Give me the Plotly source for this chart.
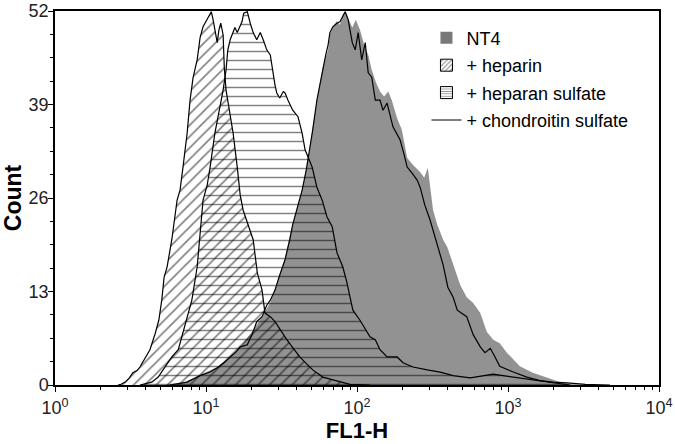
import plotly.graph_objects as go

# FL1-H is recorded on 1024 log channels spanning 4 decades (256 channels/decade)
CH_PER_DECADE = 256

# ---- NT4 (grey filled) ----
nt4_ch = [186, 220, 246, 275, 297, 314, 334, 351, 365, 378, 390, 403, 419, 432, 437, 444, 449, 454,
          463, 466, 471, 478, 483, 488, 492, 497, 504, 510, 517, 524, 531, 537, 544, 551, 558, 565,
          571, 580, 588, 597, 607, 619, 626, 632, 641, 648, 658, 665, 675, 687, 698, 709, 721, 732,
          743, 754, 766, 788, 810, 834, 856, 878, 924]
nt4_count = [0, 0.4, 1.4, 2.5, 3.9, 5.3, 7.4, 9.5, 11.5, 14.6, 17.8, 22.5, 27.1, 32.7, 35.9, 39.6, 42.0, 44.2,
             46.6, 48.7, 49.8, 50.6, 50.1, 51.5, 52.0, 51.0, 49.7, 50.8, 49.4, 47.3, 45.9, 43.8, 42.1, 40.8, 40.1, 40.8,
             39.6, 37.1, 35.5, 31.6, 30.6, 29.6, 28.8, 30.2, 24.3, 22.3, 20.2, 19.2, 16.7, 13.9, 12.2, 11.4, 10.0, 7.4,
             6.3, 5.8, 4.5, 2.6, 1.7, 1.0, 0.4, 0.1, 0]

# ---- + heparin (diagonal hatch) ----
heparin_ch = [107, 112, 119, 126, 132, 139, 144, 153, 161, 170, 176, 181, 185, 190, 198, 207, 212, 217, 224, 229,
              234, 241, 246, 251, 256, 261, 265, 268, 271, 275, 278, 281, 285, 287, 290, 293, 298, 302, 309, 314,
              319, 327, 336, 343, 351, 356, 365, 373, 382, 393, 404, 415, 427, 437, 454, 475, 500, 534]
heparin_count = [0, 0.1, 0.4, 1, 1.7, 2, 2.5, 3.8, 4.9, 7.2, 9, 11.8, 15, 16.4, 20.2, 25.7, 27.1, 30.3, 35, 39.6,
                 42.7, 45.2, 48.3, 49.8, 50.5, 51.3, 51.9, 50.8, 49.4, 47.6, 49.4, 50.3, 48.7, 44.2, 41, 39.6, 37.3, 35, 30.3, 26.4,
                 24.3, 22.5, 20.2, 15.6, 13.2, 10, 9.5, 8.8, 7.6, 6.3, 5.1, 3.9, 2.9, 2.1, 1.1, 0.6, 0.1, 0]

# ---- + heparan sulfate (horizontal stripes) ----
heparan_ch = [144, 164, 175, 186, 198, 209, 217, 225, 232, 241, 246, 251, 258, 263, 271, 280, 285, 290, 293, 297,
              302, 305, 309, 314, 317, 320, 326, 331, 336, 342, 348, 353, 359, 365, 368, 373, 376, 381, 387, 390,
              395, 403, 412, 419, 424, 429, 436, 444, 453, 461, 470, 478, 483, 488, 495, 505, 517, 534, 543, 551,
              563, 580, 590, 607, 631, 653, 675, 704, 743, 777, 810, 839, 873]
heparan_count = [0, 0.4, 1.1, 2.5, 3.9, 4.9, 7.2, 9.7, 11.8, 16.4, 21.1, 25.7, 27.8, 30.3, 35, 38.7, 41, 43.8, 46.6, 48,
                 49.1, 49.7, 49, 50.1, 50.5, 51.7, 51.9, 50.3, 49, 48, 49, 48, 46.6, 45.9, 44.2, 41.7, 40.6, 39.9, 40.8, 40.6,
                 39.6, 38.2, 37.3, 35, 32.7, 31.7, 30.3, 27.5, 25.7, 23.4, 22, 18.4, 17.4, 16.4, 14.2, 10.4, 9, 6.7, 6.3, 4.9,
                 3.9, 3.9, 3.1, 2.5, 2.1, 1.8, 1.3, 1, 1.5, 1.1, 0.7, 0.3, 0]

# ---- + chondroitin sulfate (black line) ----
chond_ch = [195, 224, 246, 263, 275, 288, 297, 307, 314, 326, 334, 342, 351, 359, 365, 373, 381, 390, 398, 403,
            412, 419, 426, 432, 437, 444, 449, 454, 459, 463, 466, 471, 478, 483, 487, 492, 497, 500, 504, 509,
            514, 520, 526, 531, 537, 543, 551, 556, 563, 573, 585, 592, 597, 605, 614, 619, 627, 636, 648, 658,
            666, 675, 682, 698, 709, 721, 729, 738, 746, 754, 777, 800, 822, 844, 868, 899, 941]
chond_count = [0, 0.4, 1.3, 1.8, 2.4, 3.2, 3.9, 4.6, 5.3, 5.6, 7.0, 8.8, 9.5, 11.1, 11.8, 13.2, 15.3, 17.4, 20.2, 22.3,
               25.0, 27.1, 29.9, 32.7, 35.5, 39.6, 41.7, 44.2, 45.9, 47.3, 49.0, 49.8, 50.3, 50.5, 51.2, 51.9, 50.8, 49.4, 47.6, 46.6,
               49.0, 45.2, 47.6, 43.4, 42.8, 39.6, 39.6, 38.2, 39.2, 35.9, 34.1, 32.0, 30.3, 29.5, 28.5, 27.5, 25.0, 22.9, 19.5, 16.7,
               13.6, 12.2, 10.4, 9.5, 7.0, 5.3, 4.5, 5.1, 3.9, 2.6, 1.8, 1.1, 0.6, 0.4, 0.3, 0.1, 0]

y_ticks = [0, 13, 26, 39, 52]
x_ticks = [1, 10, 100, 1000, 10000]
x_ticktext = ["10<sup>0</sup>", "10<sup>1</sup>", "10<sup>2</sup>", "10<sup>3</sup>", "10<sup>4</sup>"]
x_minor = [m * d for d in (1, 10, 100, 1000) for m in range(2, 10)]

legend_names = ["NT4", "+ heparin", "+ heparan sulfate", "+ chondroitin sulfate"]

GREY = "rgb(146,146,146)"
FONT = "Arial, Liberation Sans, sans-serif"


def to_fl1(ch):
    return [10 ** (c / CH_PER_DECADE) for c in ch]


fig = go.Figure()

fig.add_trace(go.Scatter(x=to_fl1(nt4_ch), y=nt4_count, mode="lines", fill="tozeroy",
                         fillcolor=GREY, line=dict(width=0, color=GREY), showlegend=False,
                         hoverinfo="skip"))
fig.add_trace(go.Scatter(x=to_fl1(heparin_ch), y=heparin_count, mode="lines", fill="tozeroy",
                         fillcolor="rgba(0,0,0,0)",
                         fillpattern=dict(shape="/", fgcolor="black", bgcolor="rgba(0,0,0,0)",
                                          size=8, solidity=0.2),
                         line=dict(width=1.2, color="black"), showlegend=False))
fig.add_trace(go.Scatter(x=to_fl1(heparan_ch), y=heparan_count, mode="lines", fill="tozeroy",
                         fillcolor="rgba(0,0,0,0)",
                         fillpattern=dict(shape="-", fgcolor="black", bgcolor="rgba(0,0,0,0)",
                                          size=9, solidity=0.16),
                         line=dict(width=1.2, color="black"), showlegend=False))
fig.add_trace(go.Scatter(x=to_fl1(chond_ch), y=chond_count, mode="lines",
                         line=dict(width=1.2, color="black"), showlegend=False))

# legend-only entries
fig.add_trace(go.Bar(x=[None], y=[None], name=legend_names[0], legendrank=1, legendgroup="a",
                     marker=dict(color="rgb(120,120,120)", line=dict(width=0))))
fig.add_trace(go.Bar(x=[None], y=[None], name=legend_names[1], legendrank=2, legendgroup="b",
                     marker=dict(color="white", line=dict(width=1, color="black"),
                                 pattern=dict(shape="/", fgcolor="black", bgcolor="white",
                                              size=4, solidity=0.3))))
fig.add_trace(go.Bar(x=[None], y=[None], name=legend_names[2], legendrank=3, legendgroup="c",
                     marker=dict(color="white", line=dict(width=1, color="black"),
                                 pattern=dict(shape="-", fgcolor="black", bgcolor="white",
                                              size=3, solidity=0.3))))
fig.add_trace(go.Scatter(x=[None], y=[None], mode="lines", name=legend_names[3], legendrank=4,
                         legendgroup="d", line=dict(width=1, color="black")))

axis_common = dict(showline=True, linecolor="black", linewidth=1.5, mirror=True,
                   showgrid=False, zeroline=False, ticks="outside", tickcolor="black",
                   tickwidth=1.2, ticklen=5, automargin=False,
                   tickfont=dict(family=FONT, size=18, color="#222"))

fig.update_xaxes(type="log", range=[0, 4], tickmode="array", tickvals=x_ticks,
                 ticktext=x_ticktext, ticklabelstandoff=1,
                 minor=dict(tickmode="array", tickvals=x_minor, ticks="outside", ticklen=3,
                            tickcolor="black", tickwidth=1),
                 title=dict(text="<b>FL1-H</b>", font=dict(family=FONT, size=22, color="black"),
                            standoff=3),
                 **axis_common)
fig.update_yaxes(range=[0, 52], tickmode="array", tickvals=y_ticks, ticklabelstandoff=-4,
                 minor=dict(dtick=3.25, tick0=0, ticks="outside", ticklen=3,
                            tickcolor="black", tickwidth=1),
                 title=dict(text="<b>Count</b>", font=dict(family=FONT, size=23, color="black"),
                            standoff=6),
                 **axis_common)

fig.update_layout(
    width=675, height=444,
    margin=dict(l=55, r=16, t=11, b=59),
    paper_bgcolor="white", plot_bgcolor="white",
    showlegend=True,
    legend=dict(x=0.615, y=0.977, xanchor="left", yanchor="top",
                bgcolor="rgba(0,0,0,0)", borderwidth=0, traceorder="grouped",
                font=dict(family=FONT, size=18, color="black"),
                tracegroupgap=1),
    font=dict(family=FONT),
)

fig.write_html("out.html", config={"displayModeBar": False},
               post_script="document.body.style.margin='0';")
